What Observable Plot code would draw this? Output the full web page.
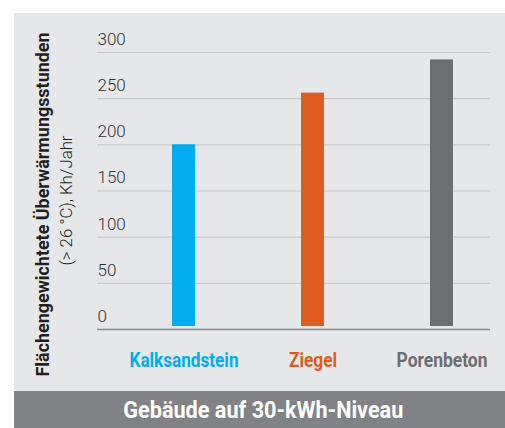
<!DOCTYPE html>
<html>
<head>
<meta charset="utf-8">
<script src="https://cdn.jsdelivr.net/npm/d3@7"></script>
<script src="https://cdn.jsdelivr.net/npm/@observablehq/plot@0.6"></script>
<style>
  html, body { margin: 0; padding: 0; background: #fff; }
  #page { position: relative; width: 505px; height: 428px; overflow: hidden; }
  #box { position: absolute; left: 14px; top: 13px; width: 491px; height: 378px; background: #e6e7e9; }
  #footer { position: absolute; left: 14px; top: 391px; width: 491px; height: 37px; background: #818285;
    color: #fff; font-family: Roboto, sans-serif; font-weight: bold;
    font-size: 24px; line-height: 38px; text-align: center; box-sizing: border-box; padding-left: 7px; white-space: nowrap; }
  #footer span { display: inline-block; transform-origin: 50% 50%; }
  svg { display: block; }
</style>
</head>
<body>
<div id="page">
  <div id="box"></div>
  <div id="footer"><span id="footerText">Gebäude auf 30-kWh-Niveau</span></div>
</div>
<script>
const categories = ["Kalksandstein", "Ziegel", "Porenbeton"];
const values = [200, 256, 292];
const colors = ["#00aeef", "#dd5c1e", "#6d6e71"];
const yTicks = [0, 50, 100, 150, 200, 250, 300];
const yTitle = "Flächengewichtete Überwärmungsstunden";
const ySubtitle = "(> 26 °C), Kh/Jahr";

const data = categories.map((c, i) => ({category: c, value: values[i]}));

const chart = Plot.plot({
  width: 491,
  height: 378,
  marginLeft: 83,
  marginRight: 15,
  marginTop: 39,
  marginBottom: 62,
  style: {background: "transparent", overflow: "visible"},
  x: {domain: categories, range: [157, 440], paddingInner: 0.8224, paddingOuter: 0, axis: null},
  y: {domain: [0, 300], axis: null},
  color: {domain: categories, range: colors},
  marks: [
    Plot.ruleY(yTicks.filter(d => d !== 0), {y: d => d, stroke: "#c8c9cb", strokeWidth: 1.2}),
    Plot.barY(data, {x: "category", y: "value", fill: "category", insetBottom: 3}),
    Plot.ruleY([0], {stroke: "#8b8c8e", strokeWidth: 1.3}),
    Plot.text(yTicks, {y: d => d, text: d => String(d), frameAnchor: "left", textAnchor: "start", dy: -13,
      fontFamily: "Roboto", fontWeight: 300, fontSize: 17, fill: "#333335"}),
    Plot.text(categories, {x: d => d, y: () => 0, text: d => d, fill: d => d, dy: 31,
      fontFamily: "Roboto", fontWeight: "bold", fontSize: 20}),
    Plot.text([yTitle], {frameAnchor: "left", textAnchor: "middle", text: d => d, rotate: -90, dx: -55, dy: 13.5,
      fontFamily: "Roboto", fontWeight: "bold", fontSize: 19, fill: "#231f20"}),
    Plot.text([ySubtitle], {frameAnchor: "left", textAnchor: "middle", text: d => d, rotate: -90, dx: -30.5, dy: 9.5,
      fontFamily: "Roboto", fontWeight: 300, fontSize: 17, fill: "#231f20"})
  ]
});
document.getElementById("box").appendChild(chart);

// condensed look (like the DIN-style original) via textLength, text stays real text
const targetWidths = {"Kalksandstein": 109, "Ziegel": 48, "Porenbeton": 91};
targetWidths[yTitle] = 344;
targetWidths[ySubtitle] = 130;
d3.select(chart).selectAll("text").each(function() {
  const t = this.textContent;
  if (targetWidths[t]) {
    this.setAttribute("textLength", targetWidths[t]);
    this.setAttribute("lengthAdjust", "spacingAndGlyphs");
  }
});
const ft = document.getElementById("footerText");
const w = ft.getBoundingClientRect().width;
ft.style.transform = `scaleX(${280 / w})`;
</script>
</body>
</html>
